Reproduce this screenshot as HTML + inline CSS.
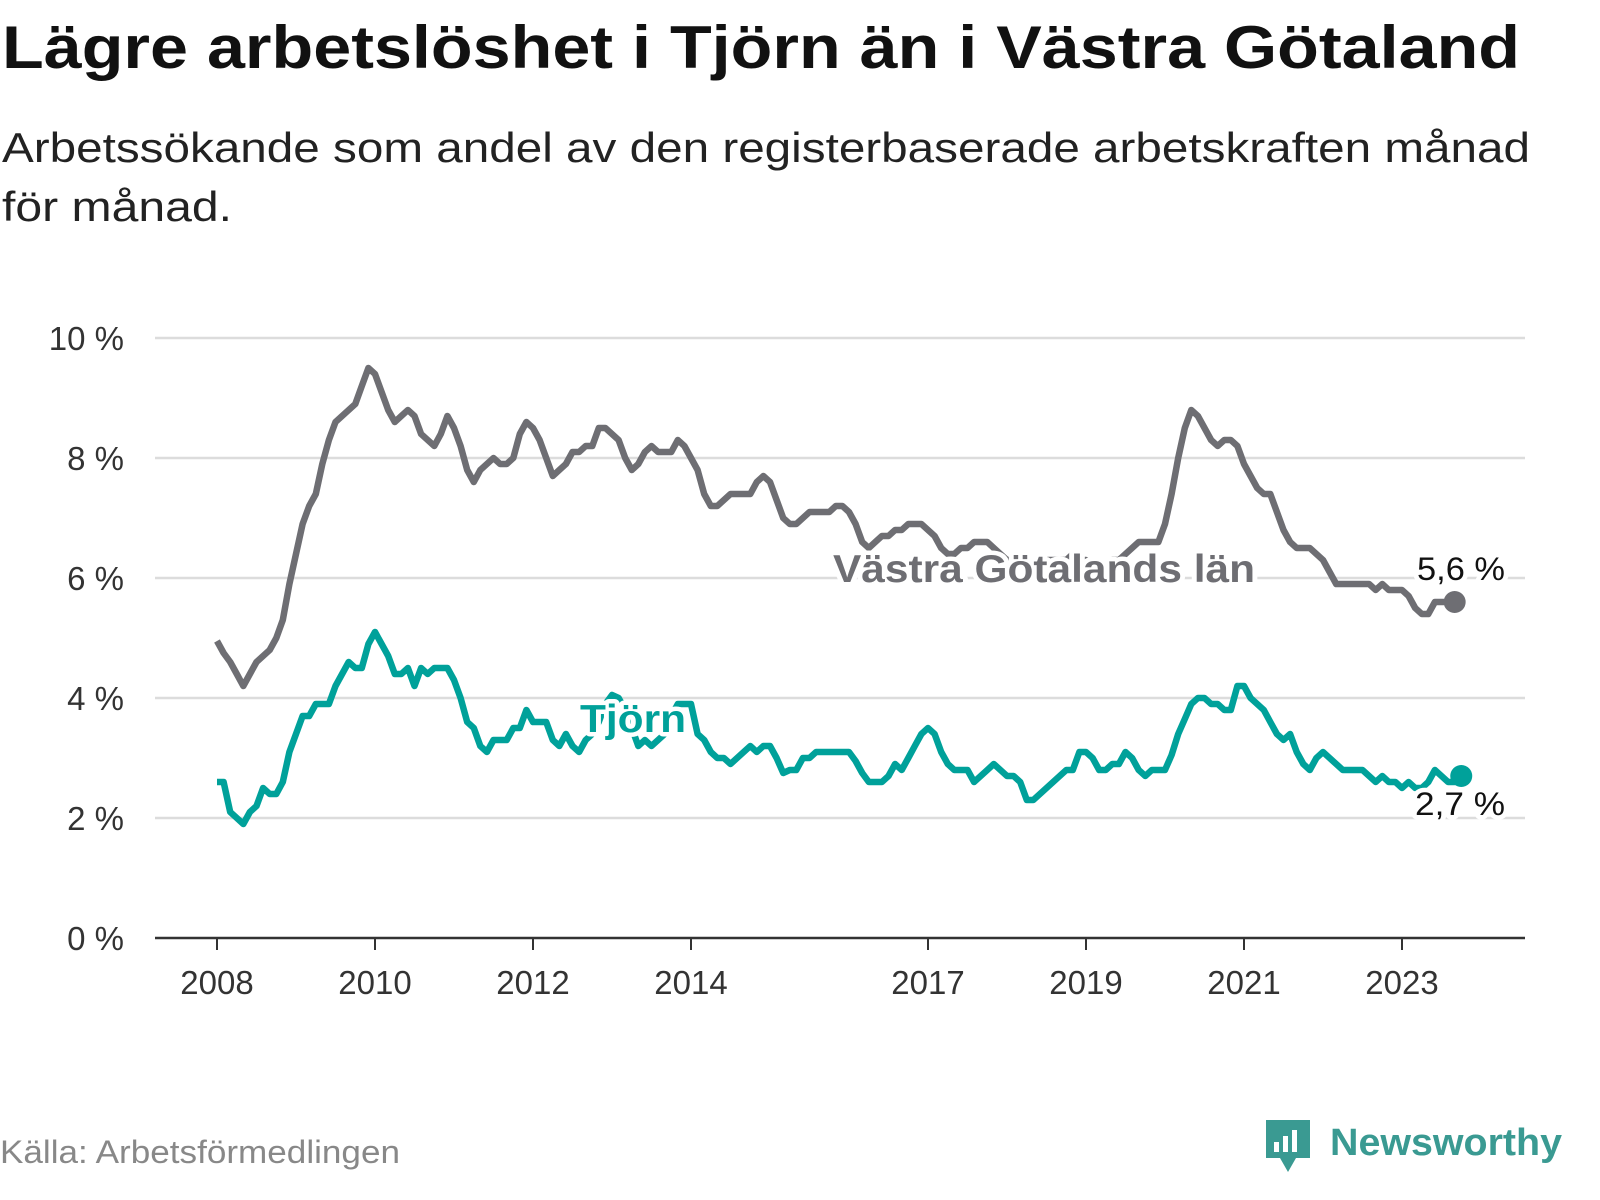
<!DOCTYPE html>
<html><head><meta charset="utf-8"><style>
html,body{margin:0;padding:0;background:#fff;}
svg{display:block;font-family:"Liberation Sans","DejaVu Sans",sans-serif;}
.halo{paint-order:stroke;stroke:#fff;stroke-width:9px;stroke-linejoin:round;}
</style></head><body>
<svg id="chart" width="1600" height="1200" viewBox="0 0 1600 1200">
<text x="2" y="68" font-size="60" font-weight="bold" fill="#111" textLength="1518" lengthAdjust="spacingAndGlyphs">Lägre arbetslöshet i Tjörn än i Västra Götaland</text>
<text x="2" y="162" font-size="42" fill="#222" textLength="1528" lengthAdjust="spacingAndGlyphs">Arbetssökande som andel av den registerbaserade arbetskraften månad</text>
<text x="2" y="221" font-size="42" fill="#222" textLength="230" lengthAdjust="spacingAndGlyphs">för månad.</text>
<g id="grid"></g><g id="xaxis"></g><g id="lines"></g><g id="labels"></g>
<text x="0" y="1163" font-size="32" fill="#888" textLength="400" lengthAdjust="spacingAndGlyphs">Källa: Arbetsförmedlingen</text>
<g>
<path d="M1266 1120 h44 v38 h-14 l-8 14 l-8 -14 h-14 z" fill="#3a9a92"/>
<rect x="1274" y="1142" width="5" height="10" fill="#fff"/><rect x="1283" y="1136" width="5" height="16" fill="#fff"/><rect x="1292" y="1130" width="5" height="22" fill="#fff"/>
<text x="1330" y="1155" font-size="38" font-weight="bold" fill="#3a9a92" textLength="232" lengthAdjust="spacingAndGlyphs">Newsworthy</text>
</g>
</svg>
<script>
const yTicks=[0,2,4,6,8,10];
const yTickLabels=["0 %","2 %","4 %","6 %","8 %","10 %"];
const xTicks=[2008,2010,2012,2014,2017,2019,2021,2023];
const startYear=2008;
const vg=[4.95,4.75,4.6,4.4,4.2,4.4,4.6,4.7,4.8,5.0,5.3,5.9,
6.4,6.9,7.2,7.4,7.9,8.3,8.6,8.7,8.8,8.9,9.2,9.5,
9.4,9.1,8.8,8.6,8.7,8.8,8.7,8.4,8.3,8.2,8.4,8.7,
8.5,8.2,7.8,7.6,7.8,7.9,8.0,7.9,7.9,8.0,8.4,8.6,
8.5,8.3,8.0,7.7,7.8,7.9,8.1,8.1,8.2,8.2,8.5,8.5,
8.4,8.3,8.0,7.8,7.9,8.1,8.2,8.1,8.1,8.1,8.3,8.2,
8.0,7.8,7.4,7.2,7.2,7.3,7.4,7.4,7.4,7.4,7.6,7.7,
7.6,7.3,7.0,6.9,6.9,7.0,7.1,7.1,7.1,7.1,7.2,7.2,
7.1,6.9,6.6,6.5,6.6,6.7,6.7,6.8,6.8,6.9,6.9,6.9,
6.8,6.7,6.5,6.4,6.4,6.5,6.5,6.6,6.6,6.6,6.5,6.4,
6.3,6.3,6.2,6.2,6.2,6.2,6.3,6.3,6.3,6.3,6.4,6.3,
6.3,6.2,6.2,6.2,6.3,6.3,6.4,6.5,6.6,6.6,6.6,6.6,
6.9,7.4,8.0,8.5,8.8,8.7,8.5,8.3,8.2,8.3,8.3,8.2,
7.9,7.7,7.5,7.4,7.4,7.1,6.8,6.6,6.5,6.5,6.5,6.4,
6.3,6.1,5.9,5.9,5.9,5.9,5.9,5.9,5.8,5.9,5.8,5.8,
5.8,5.7,5.5,5.4,5.4,5.6,5.6,5.6,5.6];
const tjorn=[2.6,2.6,2.1,2.0,1.9,2.1,2.2,2.5,2.4,2.4,2.6,3.1,
3.4,3.7,3.7,3.9,3.9,3.9,4.2,4.4,4.6,4.5,4.5,4.9,
5.1,4.9,4.7,4.4,4.4,4.5,4.2,4.5,4.4,4.5,4.5,4.5,
4.3,4.0,3.6,3.5,3.2,3.1,3.3,3.3,3.3,3.5,3.5,3.8,
3.6,3.6,3.6,3.3,3.2,3.4,3.2,3.1,3.3,3.4,3.6,3.9,
4.05,4.0,3.8,3.5,3.2,3.3,3.2,3.3,3.4,3.7,3.9,3.9,
3.9,3.4,3.3,3.1,3.0,3.0,2.9,3.0,3.1,3.2,3.1,3.2,
3.2,3.0,2.75,2.8,2.8,3.0,3.0,3.1,3.1,3.1,3.1,3.1,
3.1,2.95,2.75,2.6,2.6,2.6,2.7,2.9,2.8,3.0,3.2,3.4,
3.5,3.4,3.1,2.9,2.8,2.8,2.8,2.6,2.7,2.8,2.9,2.8,
2.7,2.7,2.6,2.3,2.3,2.4,2.5,2.6,2.7,2.8,2.8,3.1,
3.1,3.0,2.8,2.8,2.9,2.9,3.1,3.0,2.8,2.7,2.8,2.8,
2.8,3.05,3.4,3.65,3.9,4.0,4.0,3.9,3.9,3.8,3.8,4.2,
4.2,4.0,3.9,3.8,3.6,3.4,3.3,3.4,3.1,2.9,2.8,3.0,
3.1,3.0,2.9,2.8,2.8,2.8,2.8,2.7,2.6,2.7,2.6,2.6,
2.5,2.6,2.5,2.5,2.6,2.8,2.7,2.6,2.6,2.7];
const NS="http://www.w3.org/2000/svg";
function X(year){return 217+(year-2008)*79;}
function Y(v){return 938-v*60;}
function mk(tag,attrs,parent,txt){const e=document.createElementNS(NS,tag);for(const k in attrs)e.setAttribute(k,attrs[k]);if(txt!==undefined)e.textContent=txt;parent.appendChild(e);return e;}
const grid=document.getElementById('grid'),xa=document.getElementById('xaxis'),ln=document.getElementById('lines'),lb=document.getElementById('labels');
yTicks.forEach((t,i)=>{
 if(t>0){const g=mk('line',{x1:155,x2:1525,y1:Y(t),y2:Y(t),stroke:'#dcdcdc','stroke-width':2.5},grid);
 
 }
 const l=mk('text',{x:124,y:Y(t)+12,'font-size':33,fill:'#333','text-anchor':'end'},grid,yTickLabels[i]);
 
 
});
const ax=mk('line',{x1:155,x2:1525,y1:938,y2:938,stroke:'#333','stroke-width':2.5},xa);


xTicks.forEach(t=>{
 const tk=mk('line',{x1:X(t),x2:X(t),y1:938,y2:950,stroke:'#333','stroke-width':2},xa);
 
 
 const l=mk('text',{x:X(t),y:994,'font-size':33,fill:'#333','text-anchor':'middle'},xa,String(t));
 
 
});
function series(arr,color,name){
 const d=arr.map((v,i)=>(i?'L':'M')+X(startYear+i/12).toFixed(1)+' '+Y(v).toFixed(1)).join(' ');
 const p=mk('path',{d:d,fill:'none',stroke:color,'stroke-width':6.5,'stroke-linejoin':'round'},ln);
 
 
 const n=arr.length-1;
 const c=mk('circle',{cx:X(startYear+n/12),cy:Y(arr[n]),r:11,fill:color},ln);
 
 
}
series(vg,'#6e6e73','vastra-gotaland');
series(tjorn,'#00a19a','tjorn');
function lab(x,y,txt,size,weight,color,anchor,name,len){
 const a={x:x,y:y,'font-size':size,'font-weight':weight,fill:color,'text-anchor':anchor,class:'halo'};
 if(len){a.textLength=len;a.lengthAdjust='spacingAndGlyphs';}
 const t=mk('text',a,lb,txt);
 
 
}
lab(833,582,'Västra Götalands län',39,'bold','#6e6e73','start','vastra-gotaland-label',422);
lab(633,732,'Tjörn',39,'bold','#00a19a','middle','tjorn-label',106);
lab(1417,580,'5,6 %',32,'normal','#111','start','vastra-gotaland-end-value',88);
lab(1415,815,'2,7 %',32,'normal','#111','start','tjorn-end-value',90);
</script>
</body></html>
